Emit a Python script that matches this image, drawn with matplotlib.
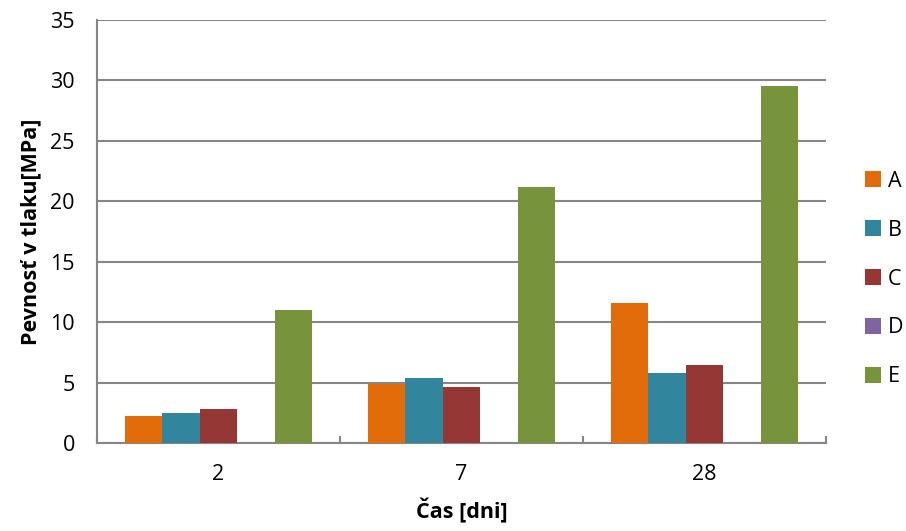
import matplotlib
matplotlib.use("Agg")
import matplotlib.pyplot as plt
import numpy as np

categories = ["2", "7", "28"]
series_names = ["A", "B", "C", "D", "E"]
A = [2.26, 4.85, 11.6]
B = [2.5, 5.4, 5.82]
C = [2.79, 4.6, 6.45]
D = [0.0, 0.0, 0.0]
E = [11.0, 21.15, 29.55]
colors = ["#E36C0A", "#31859C", "#953735", "#8064A2", "#77933C"]
yticks = [0, 5, 10, 15, 20, 25, 30, 35]

plt.rcParams['font.family'] = ['Open Sans', 'DejaVu Sans']
FS = 15.5

fig = plt.figure(figsize=(9.06, 5.31), dpi=100)
ax = fig.add_axes([97/906, 1-443/531, (826-97)/906, (443-20)/531])

x = np.arange(len(categories))
bw = 1/6.5
data = [A, B, C, D, E]
handles = []
for i, (name, vals, col) in enumerate(zip(series_names, data, colors)):
    h = ax.bar(x + (i - 2) * bw, vals, width=bw, color=col, label=name, zorder=3)
    handles.append(h)

ax.set_xlim(-0.5, len(categories) - 0.5)
ax.set_ylim(0, 35)
ax.set_yticks(yticks)
ax.set_yticklabels([str(t) for t in yticks], fontsize=FS)
ax.set_xticks(x)
ax.set_xticklabels(categories, fontsize=FS)
ax.tick_params(axis='x', length=0, pad=15)
ax.tick_params(axis='y', length=0, pad=16)
ax.set_xticks(np.arange(len(categories) + 1) - 0.5, minor=True)
ax.tick_params(axis='x', which='minor', direction='in', length=5, color='#868686', width=1.5)

ax.grid(axis='y', color='#868686', linewidth=1.5, zorder=0)
ax.set_axisbelow(True)
for s in ['top', 'right']:
    ax.spines[s].set_visible(False)
for s in ['left', 'bottom']:
    ax.spines[s].set_color('#868686')
    ax.spines[s].set_linewidth(1.5)

ax.set_ylabel("Pevnosť v tlaku[MPa]", fontsize=FS, fontweight='bold', labelpad=6)
ax.set_xlabel("Čas [dni]", fontsize=FS, fontweight='bold', labelpad=10)

leg = fig.legend(handles=handles, labels=series_names, loc='center left',
                 bbox_to_anchor=(848/906, 1-279/531), frameon=False, fontsize=FS,
                 handlelength=0.75, handleheight=0.75, handletextpad=0.3, labelspacing=1.3,
                 borderpad=0.3)

fig.savefig("out.png", dpi=100)
